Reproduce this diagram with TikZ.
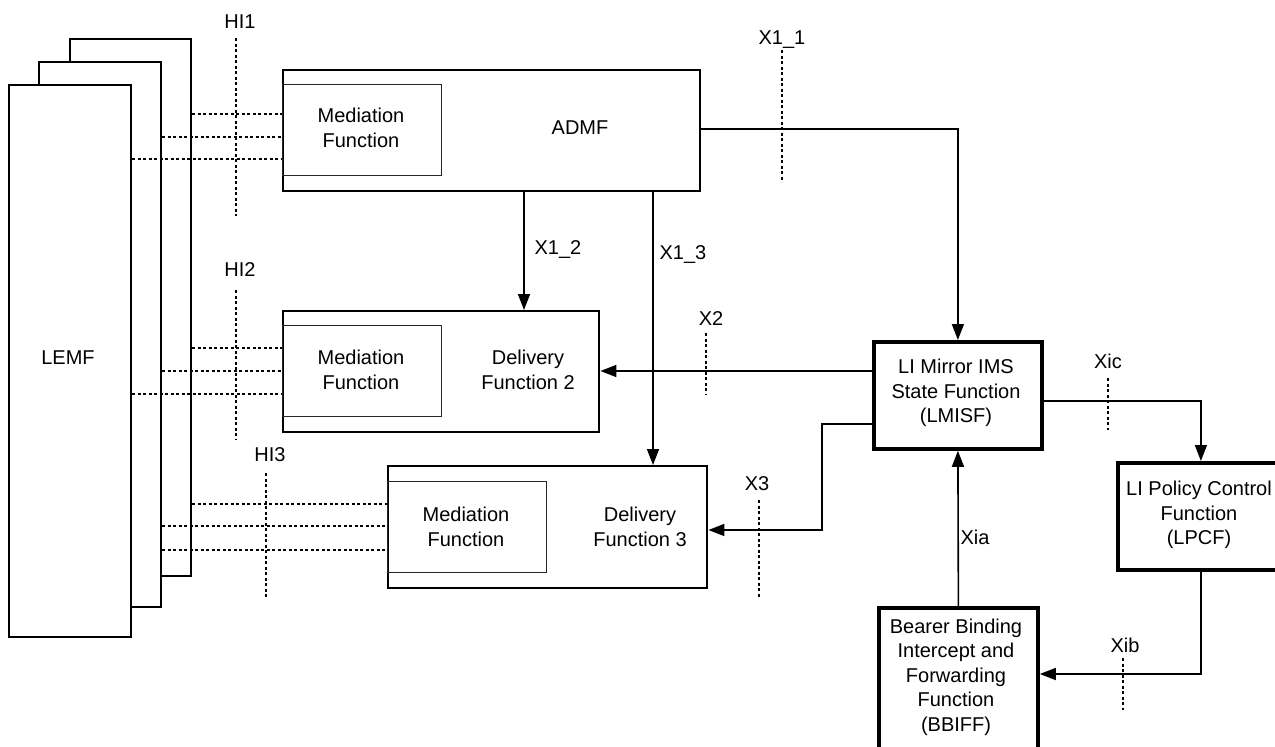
\documentclass[tikz,border=0pt]{standalone}
\usepackage{fontspec}
\setmainfont{Liberation Sans}
\usetikzlibrary{arrows.meta}
\begin{document}
\begin{tikzpicture}[x=1pt,y=-1pt,
  lbl/.style={font=\fontsize{20}{24.5}\selectfont, align=center, inner sep=0},
  lemfbox/.style={draw, line width=2pt, fill=white, inner sep=0, anchor=north west},
  box/.style={draw, line width=2.4pt, fill=white, inner sep=0, anchor=north west},
  thickbox/.style={draw, line width=3.8pt, fill=white, inner sep=0, anchor=north west},
  medbox/.style={draw=black!85, line width=1.3pt, inner sep=0, anchor=north west},
  conn/.style={line width=1.6pt},
  arr/.style={conn, -{Triangle[length=16pt,width=12pt]}},
  cut/.style={line width=1.7pt, dash pattern=on 3pt off 2.5pt},
  hline/.style={line width=1.7pt, dash pattern=on 3pt off 2.5pt},
]
\useasboundingbox (0,0) rectangle (1275,747);

% LEMF stack
\node[lemfbox, minimum width=121pt, minimum height=537pt] (lemf3) at (69,38) {};
\node[lemfbox, minimum width=122pt, minimum height=545pt] (lemf2) at (38,61) {};
\node[lemfbox, minimum width=122pt, minimum height=552pt] (lemf1) at (8,84) {};
\node[lbl] (lemft) at (68,358) {LEMF};

% ADMF
\node[box, minimum width=417pt, minimum height=121pt] (admf) at (282,69) {};
\node[medbox, minimum width=159pt, minimum height=91pt] (med1) at (282,84) {};
\node[lbl] (med1t) at (361,128) {Mediation\\Function};
\node[lbl] (admft) at (580,128) {ADMF};

% Delivery Function 2
\node[box, minimum width=316pt, minimum height=121pt] (df2) at (282,310) {};
\node[medbox, minimum width=159pt, minimum height=91pt] (med2) at (282,325) {};
\node[lbl] (med2t) at (361,370) {Mediation\\Function};
\node[lbl] (df2t) at (528,370) {Delivery\\Function 2};

% Delivery Function 3
\node[box, minimum width=319pt, minimum height=122pt] (df3) at (387,465) {};
\node[medbox, minimum width=159pt, minimum height=91pt] (med3) at (387,481) {};
\node[lbl] (med3t) at (466,527) {Mediation\\Function};
\node[lbl] (df3t) at (640,527) {Delivery\\Function 3};

% LMISF, LPCF, BBIFF
\node[thickbox, minimum width=168pt, minimum height=107pt] (lmisf) at (872,340) {};
\node[lbl] (lmisft) at (956,393) {LI Mirror IMS\\State Function\\(LMISF)};
\node[thickbox, minimum width=166pt, minimum height=107pt] (lpcf) at (1116,461) {};
\node[lbl] (lpcft) at (1199,515) {LI Policy Control\\Function\\(LPCF)};
\node[thickbox, minimum width=159pt, minimum height=160pt] (bbiff) at (877,606) {};
\node[lbl] (bbifft) at (956,677) {Bearer Binding\\Intercept and\\Forwarding\\Function\\(BBIFF)};

% HI dotted lines
\draw[hline] (lemf3.east |- 0,114) -- (admf.west |- 0,114);
\draw[hline] (lemf2.east |- 0,137) -- (admf.west |- 0,137);
\draw[hline] (lemf1.east |- 0,159) -- (admf.west |- 0,159);
\draw[hline] (lemf3.east |- 0,348) -- (df2.west |- 0,348);
\draw[hline] (lemf2.east |- 0,371) -- (df2.west |- 0,371);
\draw[hline] (lemf1.east |- 0,394) -- (df2.west |- 0,394);
\draw[hline] (lemf3.east |- 0,504) -- (df3.west |- 0,504);
\draw[hline] (lemf2.east |- 0,526) -- (df3.west |- 0,526);
\draw[hline] (lemf2.east |- 0,550) -- (df3.west |- 0,550);

% interface cut marks and labels
\draw[cut] (236,38) -- (236,216);
\node[lbl] (hi1) at (240,22) {HI1};
\draw[cut] (236,290) -- (236,440);
\node[lbl] (hi2) at (240,270) {HI2};
\draw[cut] (266,473) -- (266,597);
\node[lbl] (hi3) at (270,455) {HI3};
\draw[cut] (782,50) -- (782,182);
\node[lbl] (x11) at (782,40) {X1\_1};
\draw[cut] (706,333) -- (706,395);
\node[lbl] (x2) at (711,319) {X2};
\draw[cut] (759,500) -- (759,598);
\node[lbl] (x3) at (757,484) {X3};
\draw[cut] (1108,378) -- (1108,430);
\node[lbl] (xic) at (1108,361) {Xic};
\draw[cut] (1123,658) -- (1123,710);
\node[lbl] (xib) at (1125,645) {Xib};

% connectors
\draw[arr] (admf.east |- 0,129) -| (lmisf.north);
\draw[arr] (admf.south -| 524,0) -- (df2.north -| 524,0);
\node[lbl] (x12) at (558,250) {X1\_2};
\draw[arr] (admf.south -| 653,0) -- (df3.north -| 653,0);
\node[lbl] (x13) at (683,255) {X1\_3};
\draw[arr] (lmisf.west |- 0,371) -- (df2.east |- 0,371);
\draw[arr] (lmisf.west |- 0,424) -- (822,424) -- (822,530) -- (df3.east |- 0,530);
\draw[arr] (lmisf.east |- 0,401) -| (lpcf.north);
\draw[arr] (lpcf.south) |- (bbiff.east |- 0,674);
\draw[arr] (bbiff.north) -- (lmisf.south);
\node[lbl] (xia) at (975,537) {Xia};
\end{tikzpicture}
\end{document}
